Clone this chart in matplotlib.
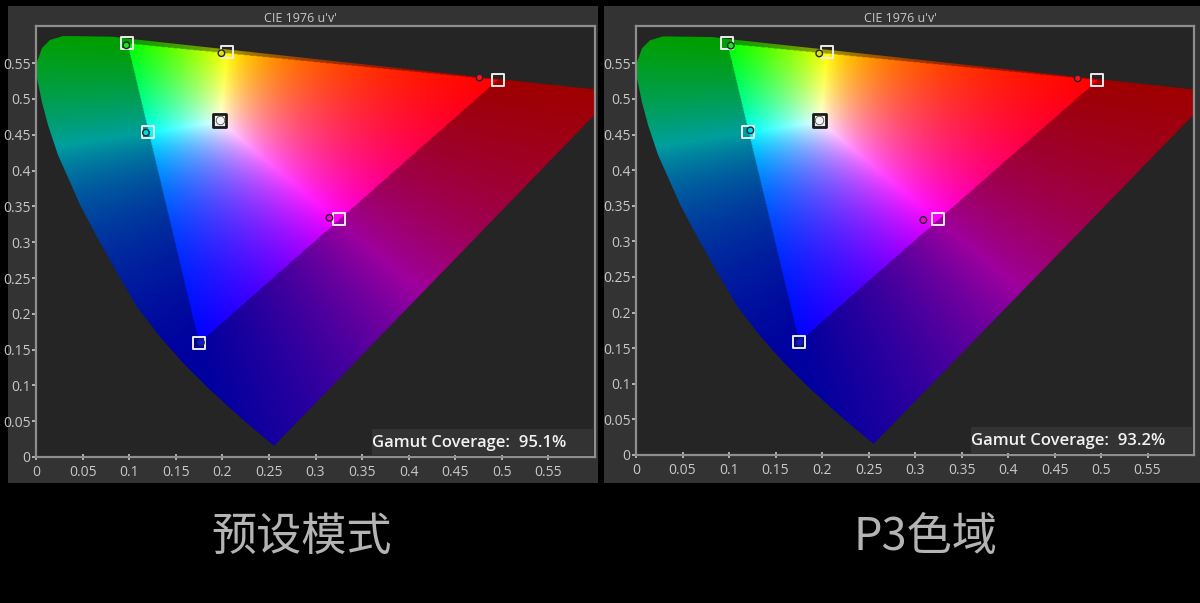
import numpy as np
import matplotlib
matplotlib.use('Agg')
import matplotlib.pyplot as plt
from matplotlib.patches import Rectangle, Polygon

W, H = 1200, 603

# spectral locus (u', v')
locus_u = [0.2555, 0.2223, 0.1869, 0.1579, 0.1332, 0.1085, 0.0870, 0.0655, 0.0473, 0.0365, 0.0236, 0.0129,
           0.0064, 0.0011, 0.0011, 0.0064, 0.0150, 0.029, 0.0827, 0.101, 0.6234]
locus_v = [0.0155, 0.0517, 0.0936, 0.1313, 0.1676, 0.2095, 0.2570, 0.3073, 0.3520, 0.3841, 0.4218, 0.4637,
           0.4958, 0.5293, 0.5517, 0.5712, 0.5824, 0.588, 0.587, 0.584, 0.51]

# target points: R, Y, G, C, B, M, W
target_u = [0.496, 0.205, 0.098, 0.120, 0.175, 0.325, 0.197]
target_v = [0.527, 0.566, 0.578, 0.454, 0.159, 0.332, 0.470]

# measured points, white last
left_u = [0.476, 0.199, 0.097, 0.118, 0.177, 0.315]
left_v = [0.530, 0.564, 0.575, 0.453, 0.160, 0.334]
right_u = [0.475, 0.197, 0.102, 0.123, 0.176, 0.309]
right_v = [0.529, 0.564, 0.575, 0.456, 0.158, 0.330]
white_u = 0.197
white_v = 0.470
point_colors = ['#ff1020', '#e8e000', '#20e020', '#00d8e0', '#1010ff', '#ff00d0']

x_ticks = [0, 0.05, 0.1, 0.15, 0.2, 0.25, 0.3, 0.35, 0.4, 0.45, 0.5, 0.55]
y_ticks = [0, 0.05, 0.1, 0.15, 0.2, 0.25, 0.3, 0.35, 0.4, 0.45, 0.5, 0.55]
tick_labels = ['0', '0.05', '0.1', '0.15', '0.2', '0.25', '0.3', '0.35', '0.4', '0.45', '0.5', '0.55']

titles = ['预设模式', 'P3色域']
coverage = ['Gamut Coverage:  95.1%', 'Gamut Coverage:  93.2%']


def uv_to_xyz(u, v):
    d = 6 * u - 16 * v + 12
    x = 9 * u / d
    y = 4 * v / d
    return np.stack([x, y, 1 - x - y], axis=-1)


def gamut_image():
    uu, vv = np.meshgrid(np.linspace(0, 0.64, 800), np.linspace(0, 0.61, 700))
    xyz = uv_to_xyz(uu, vv)
    prim = uv_to_xyz(np.array(target_u)[[0, 2, 4]], np.array(target_v)[[0, 2, 4]]).T
    white = uv_to_xyz(np.array(0.1978), np.array(0.4683))
    scale = np.linalg.solve(prim, white)
    m = np.linalg.inv(prim * scale)
    rgb = xyz @ m.T
    outside = rgb.min(axis=-1) < 0
    rgb = np.clip(rgb, 0, None)
    rgb = rgb / rgb.max(axis=-1, keepdims=True)
    rgb[outside] *= 0.62
    return rgb


img = gamut_image()

fig = plt.figure(figsize=(W / 100, H / 100), dpi=100, facecolor='black')
plt.rcParams['font.family'] = ['Open Sans', 'DejaVu Sans']


def draw_panel(ax_box, panel_box, ppu, meas_u, meas_v, cov, cov_box, label, label_x, title_x):
    x0, y0, x1, y1 = ax_box
    px0, py0, px1, py1 = panel_box
    fig.add_artist(Rectangle((px0 / W, 1 - py1 / H), (px1 - px0) / W, (py1 - py0) / H,
                             transform=fig.transFigure, facecolor='#333333', edgecolor='none', zorder=-1))
    ax = fig.add_axes([x0 / W, 1 - y1 / H, (x1 - x0) / W, (y1 - y0) / H], facecolor='#252525')
    im = ax.imshow(img, origin='lower', extent=[0, 0.64, 0, 0.61], aspect='auto', interpolation='bilinear')
    ax.set_xlim(0, 0.6)
    ax.set_ylim(0, (y1 - y0) / ppu)
    poly = Polygon(np.column_stack([locus_u, locus_v]), closed=True, transform=ax.transData)
    im.set_clip_path(poly)
    ax.set_xticks(x_ticks, tick_labels)
    ax.set_yticks(y_ticks, tick_labels)
    ax.tick_params(axis='y', colors='#c8c8c8', labelsize=10, length=3, width=1.2, pad=1)
    ax.tick_params(axis='x', colors='#c8c8c8', labelsize=10, direction='inout', length=5, width=1.2, pad=3)
    for s in ax.spines.values():
        s.set_color('#8e8e8e')
        s.set_linewidth(1.6)
    fig.text(title_x / W, 1 - 18 / H, "CIE 1976 u'v'", color='#c8c8c8', fontsize=9, ha='center', va='center')

    ax.scatter(target_u[:6], target_v[:6], marker='s', s=75, facecolors='none', edgecolors='#ececec', linewidths=1.4, zorder=3)
    ax.scatter(target_u[6], target_v[6], marker='s', s=85, facecolors='none', edgecolors='#1a1a1a', linewidths=2.0, zorder=3.5)
    ax.scatter(white_u, white_v, marker='o', s=38, c='#f4f4f4', edgecolors='#555555', linewidths=0.6, zorder=4)
    ax.scatter(meas_u, meas_v, marker='o', s=22, c=point_colors, edgecolors='#1c2a30', linewidths=1.0, zorder=4)

    cx0, cy0, cx1, cy1 = cov_box
    ax_cov = fig.add_axes([cx0 / W, 1 - cy1 / H, (cx1 - cx0) / W, (cy1 - cy0) / H], facecolor='#333333')
    ax_cov.set_xticks([])
    ax_cov.set_yticks([])
    for s in ax_cov.spines.values():
        s.set_visible(False)
    ax_cov.text(0, 0.48, cov, color='#f2f2f2', fontsize=12, fontweight='semibold', va='center', ha='left',
                transform=ax_cov.transAxes)

    fig.text(label_x / W, 1 - 537 / H, label, color='#b4b4b4', fontsize=32.5, ha='center', va='center',
             family=['Noto Sans CJK SC', 'DejaVu Sans'], fontweight='light')


draw_panel((36, 26, 595, 457), (8, 6, 598, 483), 716, left_u, left_v, coverage[0], (372, 429, 593, 455), titles[0], 302, 300)
draw_panel((636, 26, 1194, 455), (604, 6, 1200, 483), 712, right_u, right_v, coverage[1], (971, 427, 1192, 453), titles[1], 925, 900)

fig.savefig('out.png', dpi=100, facecolor='black')
